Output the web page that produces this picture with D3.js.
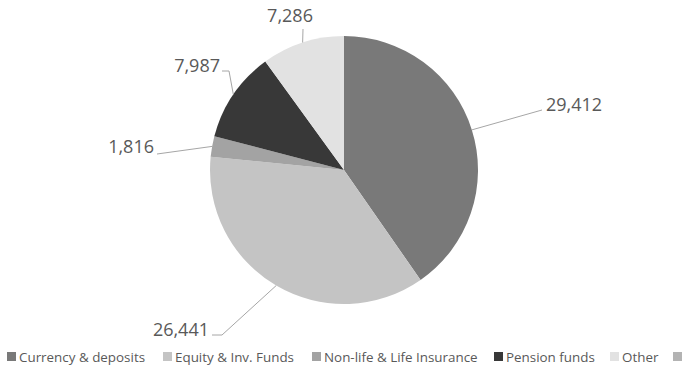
<!DOCTYPE html>
<html><head><meta charset="utf-8">
<script src="https://cdn.jsdelivr.net/npm/d3@7"></script>
<style>body{margin:0;background:#fff}svg{display:block}</style>
</head><body><svg id="c" width="683" height="368"></svg>
<script>
const categories = ["Currency & deposits", "Equity & Inv. Funds", "Non-life & Life Insurance", "Pension funds", "Other"];
const values = [29412, 26441, 1816, 7987, 7286];
const colors = ["#797979", "#c4c4c4", "#a3a3a3", "#383838", "#e2e2e2"];
const legendExtra = {name: "", color: "#b3b3b3"};

// label leader layout (relative to pie centre)
const labelLayout = [
  {pts: [[198, -60]], text: [202, -59], anchor: "start"},
  {pts: [[-122, 165], [-132, 165]], text: [-135, 166], anchor: "end"},
  {pts: [[-187, -16]], text: [-190, -17], anchor: "end"},
  {pts: [[-115, -99], [-122, -99]], text: [-124, -98], anchor: "end"},
  {pts: [[-41, -141]], text: [-54, -148], anchor: "middle"}
];
const legendX = [7, 163, 312, 494, 610, 673];

const svg = d3.select("#c");
const cx = 344, cy = 170, R = 134;
const fmt = d3.format(",");
const data = categories.map((c, i) => ({name: c, value: values[i], color: colors[i]}));
const pie = d3.pie().value(d => d.value).sort(null);
const arcs = pie(data);
const arc = d3.arc().innerRadius(0).outerRadius(R);
const g = svg.append("g").attr("transform", `translate(${cx},${cy})`);
g.selectAll("path.s").data(arcs).join("path").attr("class", "s")
  .attr("d", arc).attr("fill", d => d.data.color);

const line = d3.line();
arcs.forEach((a, i) => {
  const m = (a.startAngle + a.endAngle) / 2;
  const edge = [R * Math.sin(m), -R * Math.cos(m)];
  const L = labelLayout[i];
  g.append("path").attr("d", line([edge, ...L.pts]))
    .attr("fill", "none").attr("stroke", "#a6a6a6").attr("stroke-width", 1);
  g.append("text").attr("x", L.text[0]).attr("y", L.text[1])
    .attr("text-anchor", L.anchor)
    .attr("font-family", "'Open Sans', sans-serif").attr("font-size", 18)
    .attr("fill", "#595959").text(fmt(a.data.value));
});

const legendItems = data.concat([legendExtra]);
const lg = svg.append("g");
legendItems.forEach((d, i) => {
  const x = legendX[i];
  lg.append("rect").attr("x", x).attr("y", 352).attr("width", 9).attr("height", 9).attr("fill", d.color);
  lg.append("text").attr("x", x + 12).attr("y", 361.5)
    .attr("font-family", "'Open Sans', sans-serif").attr("font-size", 13.4)
    .attr("fill", "#595959").text(d.name);
});
</script></body></html>
